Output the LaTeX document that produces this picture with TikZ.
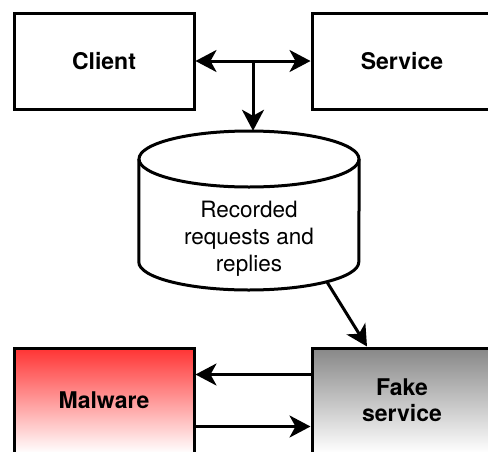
\documentclass[tikz,border=0pt]{standalone}
\usepackage{fontspec}
\setmainfont{TeX Gyre Heros}
\usepackage{tikz}
\usetikzlibrary{arrows.meta}

\begin{document}
\begin{tikzpicture}[x=1pt, y=-1pt, >={Stealth[length=21pt, width=22pt, inset=6pt]},
  box/.style={draw, line width=3pt, minimum width=180pt, minimum height=96pt, font=\fontsize{23}{26}\selectfont\bfseries},
  lowbox/.style={box, minimum height=105pt, align=center},
  flow/.style={->, line width=3pt},]
\path[use as bounding box, clip] (0,0) rectangle (488,451);
\node[box] (1) at (104, 61) {Client};
\node[box] (2) at (402, 61) {Service};
% store
\node[minimum width=220pt, minimum height=159pt, inner sep=0pt] (3) at (249, 210.5) {};
\draw[line width=3pt] (249, 159) ellipse [x radius=110, y radius=28];
\draw[line width=3pt] (3.north west |- 0,159) -- (3.south west |- 0,262)
  arc[start angle=180, end angle=0, x radius=110, y radius=28] -- (3.north east |- 0,159);
\node[align=center, font=\fontsize{22.5}{27}\selectfont] (4) at (249, 239) {Recorded\\requests and\\replies};
\node[lowbox, top color=red!80!white, bottom color=white] (5) at (104, 400.5) {Malware};
\node[lowbox, top color=black!47, bottom color=white] (6) at (402, 400.5) {Fake\\service};
\coordinate (7) at (253, 61);
\coordinate (8) at (327, 282);
  \draw [flow, <->] (1)--(2);
  \draw [flow] (7)--(7 |- 3.north);
  \draw [flow] (8)--([xshift=-35pt]6.north);
  \draw [flow] ([yshift=26pt]6.west)--([yshift=26pt]5.east);
  \draw [flow] ([yshift=-26pt]5.east)--([yshift=-26pt]6.west);
\end{tikzpicture}
\end{document}
